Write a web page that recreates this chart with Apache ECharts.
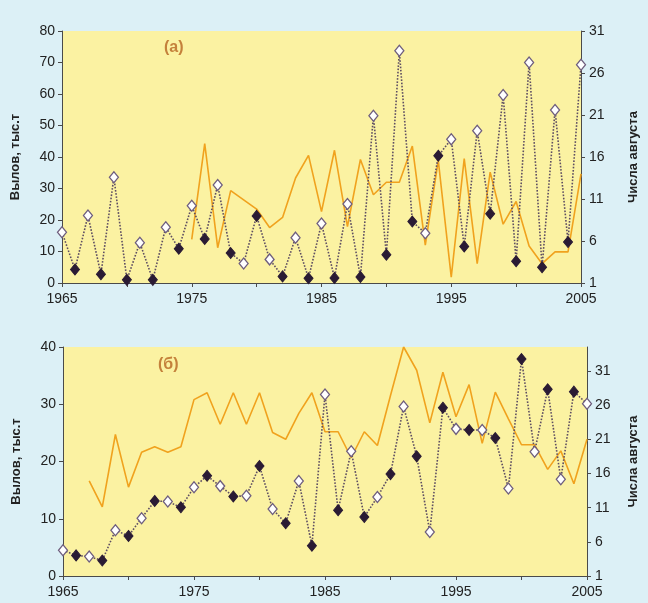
<!DOCTYPE html>
<html>
<head>
<meta charset="utf-8">
<script src="https://cdn.jsdelivr.net/npm/echarts@6/dist/echarts.min.js"></script>
<style>
html,body{margin:0;padding:0;background:#dcf0f6;}
#c{width:648px;height:603px;}
</style>
</head>
<body>
<div id="c"></div>
<script>
// ---- data ----
const years = [1965,1966,1967,1968,1969,1970,1971,1972,1973,1974,1975,1976,1977,1978,1979,1980,1981,1982,1983,1984,1985,1986,1987,1988,1989,1990,1991,1992,1993,1994,1995,1996,1997,1998,1999,2000,2001,2002,2003,2004,2005];
// panel (а): catch, thousand t (left axis)
const catchA = [16.1,4.3,21.4,2.8,33.6,1.0,12.8,1.0,17.7,10.9,24.5,14.0,31.1,9.5,6.2,21.3,7.5,2.1,14.4,1.5,18.9,1.6,25.1,1.9,53.1,9.0,73.7,19.5,15.8,40.4,45.6,11.6,48.3,22.0,59.7,6.9,70.0,5.0,54.9,13.0,69.3];
// panel (а): August day (right axis)
const dayA = [null,null,null,null,null,null,null,null,null,null,6.2,17.6,5.2,12.0,10.9,9.8,7.6,8.8,13.5,16.2,9.5,16.8,7.7,15.7,11.5,13.0,13.0,17.3,5.5,15.6,1.7,15.8,3.3,14.2,8.0,10.7,5.4,3.3,4.7,4.7,14.0];
// panel (б)
const catchB = [4.5,3.6,3.4,2.7,8.0,7.0,10.1,13.1,13.0,12.0,15.5,17.5,15.7,13.9,14.0,19.2,11.7,9.2,16.6,5.3,31.7,11.5,21.8,10.3,13.8,17.8,29.6,20.9,7.7,29.4,25.7,25.5,25.5,24.1,15.3,37.9,21.7,32.6,16.9,32.2,30.1];
const dayB = [null,null,14.9,11.1,21.7,14.0,19.1,19.9,19.1,19.9,26.8,27.8,23.2,27.8,23.2,27.8,22.0,21.0,24.8,27.8,22.1,22.1,18.3,22.1,20.1,27.4,34.5,31.1,23.4,30.8,24.3,29.0,20.4,27.9,24.0,20.2,20.2,16.6,19.3,14.5,21.0];
const xTickLabels = [1965,1975,1985,1995,2005];
const leftNameText = 'Вылов, тыс.т';
const rightNameText = 'Числа августа';
const panelLabels = ['(а)','(б)'];
const dayTicks = [1,6,11,16,21,26,31];

// ---- styles ----
const FONT = '"Liberation Sans", Arial, sans-serif';
const axisColor = '#4a4a4a';
const textColor = '#222';
const orange = '#f0a21e';
const dotColor = '#5e4e62';
const whiteSym = {color:'#ffffff', borderColor:'#6e5e7e', borderWidth:1.3};
const blackSym = {color:'#2a1b34', borderColor:'#2a1b34', borderWidth:1};

function pairs(vals){ return vals.map((v,i)=>[years[i], v]); }
function diamonds(vals){
  return vals.map((v,i)=>({value:[years[i], v], itemStyle: (years[i]%2===1)? whiteSym : blackSym}));
}

function xAxis(gi){
  return {
    type:'value', gridIndex:gi, min:1965, max:2005, interval:5,
    axisLine:{show:true, lineStyle:{color:axisColor, width:1}},
    axisTick:{show:true, inside:false, length:4, lineStyle:{color:axisColor}},
    splitLine:{show:false},
    axisLabel:{color:textColor, fontFamily:FONT, fontSize:14, margin:9,
      formatter:v=> xTickLabels.indexOf(v)>=0 ? String(v) : ''}
  };
}
function leftAxis(gi, max){
  return {
    type:'value', gridIndex:gi, position:'left', min:0, max:max, interval:10,
    name:leftNameText, nameLocation:'middle', nameGap:40, nameRotate:90,
    nameTextStyle:{color:textColor, fontFamily:FONT, fontSize:13, fontWeight:'bold'},
    axisLine:{show:true, lineStyle:{color:axisColor}},
    axisTick:{show:true, length:4, lineStyle:{color:axisColor}},
    splitLine:{show:false},
    axisLabel:{color:textColor, fontFamily:FONT, fontSize:14, margin:7}
  };
}
function rightAxis(gi, max, gap){
  return {
    type:'value', gridIndex:gi, position:'right', min:1, max:max, interval:5,
    name:rightNameText, nameLocation:'middle', nameGap:gap, nameRotate:90,
    nameTextStyle:{color:textColor, fontFamily:FONT, fontSize:13, fontWeight:'bold'},
    axisLine:{show:true, onZero:false, lineStyle:{color:axisColor}},
    axisTick:{show:true, length:4, lineStyle:{color:axisColor}, customValues:dayTicks},
    splitLine:{show:false},
    axisLabel:{color:textColor, fontFamily:FONT, fontSize:14, margin:8, customValues:dayTicks,
      showMinLabel:true, showMaxLabel:true,
      formatter:v=> dayTicks.indexOf(v)>=0 ? String(v) : ''}
  };
}

const chart = echarts.init(document.getElementById('c'), null, {renderer:'canvas'});
chart.setOption({
  backgroundColor:'#dcf0f6',
  animation:false,
  grid:[
    {left:62, right:61, top:31, bottom:320, show:true, backgroundColor:'#fbf2a2', borderWidth:0},
    {left:63, right:55, top:347, bottom:27, show:true, backgroundColor:'#fbf2a2', borderWidth:0}
  ],
  xAxis:[xAxis(0), xAxis(1)],
  yAxis:[leftAxis(0,80), rightAxis(0,31,46), leftAxis(1,40), rightAxis(1,34.5,40)],
  graphic:[
    {type:'text', left:164, top:40, style:{text:panelLabels[0], fill:'#c4813b', font:'bold 16px '+FONT}},
    {type:'text', left:158, top:357, style:{text:panelLabels[1], fill:'#c4813b', font:'bold 16px '+FONT}}
  ],
  series:[
    {type:'line', xAxisIndex:0, yAxisIndex:1, data:pairs(dayA), showSymbol:false, symbol:'none',
      lineStyle:{color:orange, width:1.6}, connectNulls:false, z:2},
    {type:'line', xAxisIndex:0, yAxisIndex:0, data:diamonds(catchA), symbol:'diamond', symbolSize:[9,11], showAllSymbol:true,
      lineStyle:{color:dotColor, width:1.6, type:'dotted'}, z:3},
    {type:'line', xAxisIndex:1, yAxisIndex:3, data:pairs(dayB), showSymbol:false, symbol:'none',
      lineStyle:{color:orange, width:1.6}, connectNulls:false, z:2},
    {type:'line', xAxisIndex:1, yAxisIndex:2, data:diamonds(catchB), symbol:'diamond', symbolSize:[9,11], showAllSymbol:true,
      lineStyle:{color:dotColor, width:1.6, type:'dotted'}, z:3}
  ]
});
</script>
</body>
</html>
